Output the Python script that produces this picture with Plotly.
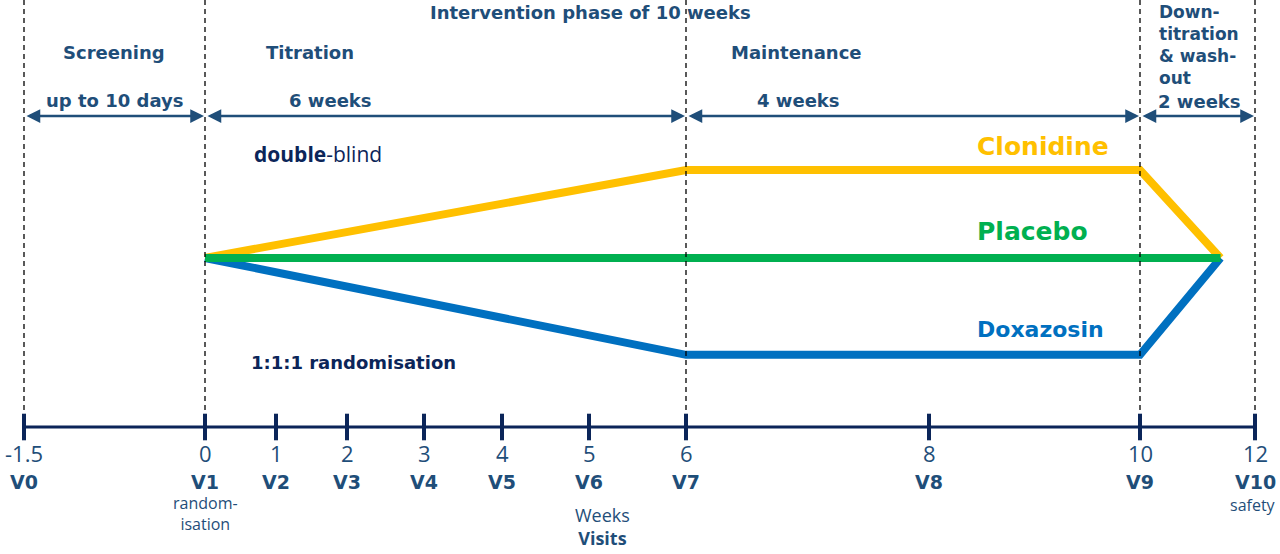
import numpy as np
import plotly.graph_objects as go

# time axis: weeks, visits
weeks = [-1.5, 0, 1, 2, 3, 4, 5, 6, 8, 10, 12]
week_labels = ['-1.5', '0', '1', '2', '3', '4', '5', '6', '8', '10', '12']
visits = ['V0', 'V1', 'V2', 'V3', 'V4', 'V5', 'V6', 'V7', 'V8', 'V9', 'V10']
phase_bounds = [-1.5, 0, 6, 10, 12]

# treatment arms (relative dose level)
arm_weeks = [0, 6, 10, 11.4]
clonidine = [0, 1, 1, 0]
placebo = [0, 0, 0, 0]
doxazosin = [0, -1.1, -1.1, 0]

# non-linear display scale of the timeline (week -> horizontal pixel)
scale_px = [24, 205, 276, 347, 424, 502, 589, 686, 929, 1140, 1255]
def X(w):
    return float(np.interp(w, weeks, scale_px))

def Y(pix):
    # vertical pixel -> dose units (placebo at 258 px, 88 px per level)
    return (258 - pix) / 88.0

NAVY = '#1F4E79'
DARK = '#0B2559'
BOLD = 'DejaVu Sans'
LIGHT = 'Open Sans'

fig = go.Figure()

arms = [('Clonidine', clonidine, '#FFC000'),
        ('Doxazosin', doxazosin, '#0070C0'),
        ('Placebo', placebo, '#00B050')]
for name, vals, col in arms:
    fig.add_trace(go.Scatter(x=[X(w) for w in arm_weeks], y=vals, mode='lines', name=name,
                             line=dict(color=col, width=8), hoverinfo='skip'))

# timeline axis + ticks
fig.add_shape(type='line', x0=X(-1.5), x1=X(12), y0=Y(427), y1=Y(427),
              line=dict(color=DARK, width=3))
fig.add_trace(go.Scatter(x=[X(w) for w in weeks], y=[Y(427)] * len(weeks), mode='markers',
                         marker=dict(symbol='line-ns', size=19, line=dict(color=DARK, width=4)),
                         hoverinfo='skip'))

# phase boundaries
for b in phase_bounds:
    fig.add_shape(type='line', x0=X(b), x1=X(b), y0=Y(0), y1=Y(414),
                  line=dict(color='black', width=1.3, dash='5px,4px'))

# phase arrows
for a, b in zip(phase_bounds[:-1], phase_bounds[1:]):
    fig.add_annotation(x=X(b) - 1, y=Y(116), ax=X(a) + 1, ay=Y(116), xref='x', yref='y',
                       axref='x', ayref='y', text='', showarrow=True, arrowside='end+start',
                       arrowhead=2, arrowsize=1.1, arrowwidth=2.5, arrowcolor=NAVY)

def txt(x, y, s, size=18, color=NAVY, family=BOLD, xanchor='center', align='center'):
    fig.add_annotation(x=x, y=Y(y), text=s, showarrow=False, xanchor=xanchor, yanchor='middle',
                       align=align, font=dict(family=family, size=size, color=color))

txt(590, 12, '<b>Intervention phase of 10 weeks</b>')
txt(114, 52, '<b>Screening</b>')
txt(310, 52, '<b>Titration</b>')
txt(796, 52, '<b>Maintenance</b>')
txt(1157, 45, '<b>Down-<br>titration<br>& wash-<br>out</b>', size=17, xanchor='left', align='left')
txt(114, 100, '<b>up to 10 days</b>')
txt(330, 100, '<b>6 weeks</b>')
txt(798, 100, '<b>4 weeks</b>')
txt(1199, 101, '<b>2 weeks</b>')

txt(252, 154, '<b>double</b>-blind', size=21, color=DARK, family=LIGHT, xanchor='left')
txt(249, 362, '<b>1:1:1 randomisation</b>', size=18, color=DARK, xanchor='left')

txt(975, 146, '<b>Clonidine</b>', size=25, color='#FFC000', xanchor='left')
txt(975, 231, '<b>Placebo</b>', size=25, color='#00B050', xanchor='left')
txt(975, 329, '<b>Doxazosin</b>', size=22, color='#0070C0', xanchor='left')

for w, lab, v in zip(weeks, week_labels, visits):
    txt(X(w), 453, lab, size=22, family=LIGHT)
    txt(X(w), 482, '<b>' + v + '</b>', size=19)

txt(X(0), 513, 'random-<br>isation', size=16, family=LIGHT)
txt(X(12) - 2, 505, 'safety', size=16, family=LIGHT)
txt(602, 526, 'Weeks<br><b>Visits</b>', size=18, family=LIGHT)

fig.update_layout(width=1280, height=554, margin=dict(l=0, r=0, t=0, b=0),
                  paper_bgcolor='white', plot_bgcolor='white', showlegend=False,
                  xaxis=dict(range=[0, 1280], visible=False, fixedrange=True),
                  yaxis=dict(range=[Y(554), Y(0)], visible=False, fixedrange=True))

fig.write_html("out.html", config={'displayModeBar': False},
               post_script="document.body.style.margin='0px';")
